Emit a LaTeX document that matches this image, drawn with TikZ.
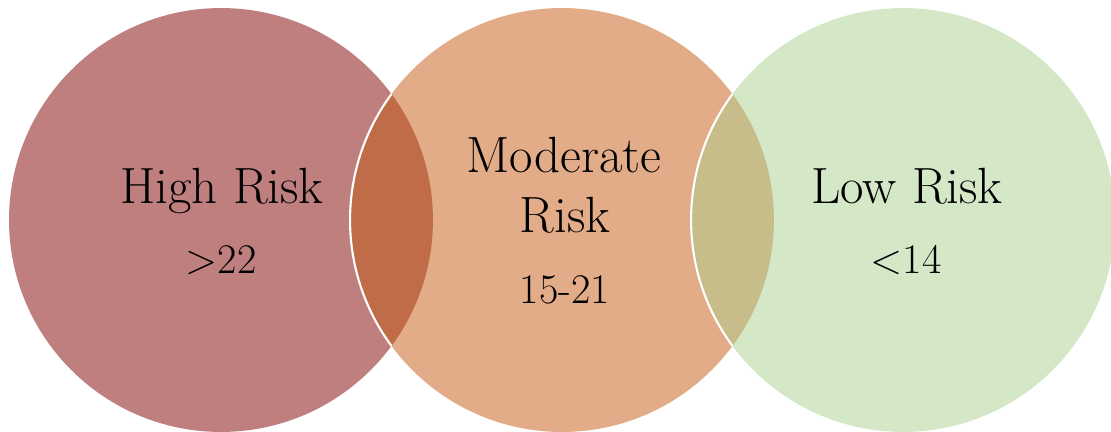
\documentclass[tikz,border=0pt]{standalone}
\usepackage{tikz}
\usetikzlibrary{positioning}
\usepackage{xcolor}

\definecolor{highfill}{HTML}{BF7F7F}
\definecolor{modfill}{HTML}{E2AC88}
\definecolor{lowfill}{HTML}{D4E7C6}
\definecolor{highmod}{HTML}{C06C48}
\definecolor{modlow}{HTML}{C6BD8B}

\begin{document}
\begin{tikzpicture}[
    x=0.02cm, y=-0.02cm,
    disc/.style={circle, minimum size=8.48cm, inner sep=0pt},
    title/.style={anchor=base, align=center, font=\fontsize{29}{34}\selectfont},
    score/.style={anchor=base, font=\fontsize{24}{28}\selectfont}
]
    \useasboundingbox (0,0) rectangle (1111,432);

    % Risk circles
    \node[disc, fill=highfill] (high) at (221,220) {};
    \node[disc, fill=modfill] (moderate) at (562,220) {};
    \node[disc, fill=lowfill] (low) at (903,220) {};

    % Overlaps
    \begin{scope}
        \clip (high.center) circle (4.24cm);
        \fill[highmod] (moderate.center) circle (4.24cm);
        \draw[white, line width=1.2pt] (moderate.center) circle (4.24cm);
    \end{scope}
    \begin{scope}
        \clip (moderate.center) circle (4.24cm);
        \fill[modlow] (low.center) circle (4.24cm);
        \draw[white, line width=1.2pt] (low.center) circle (4.24cm);
    \end{scope}

    % Labels
    \node[title] (highlbl) at (222,203) {High Risk};
    \node[score] (highval) at (221,273) {>22};
    \node[title] (modlbl) at (564,173) {Moderate};
    \node[title] (modlbl2) at (565,232) {Risk};
    \node[score] (modval) at (565,303) {15-21};
    \node[title] (lowlbl) at (907,203) {Low Risk};
    \node[score] (lowval) at (906,273) {<14};
\end{tikzpicture}
\end{document}
